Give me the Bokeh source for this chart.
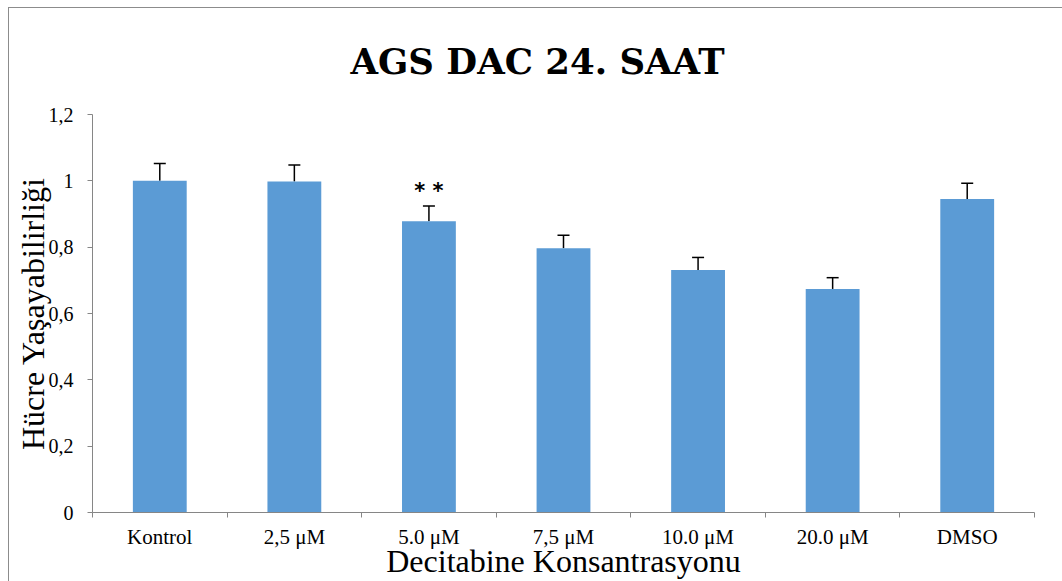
import numpy as np
from bokeh.plotting import figure
from bokeh.models import (ColumnDataSource, Whisker, TeeHead, FixedTicker,
                          CustomJSTickFormatter, Range1d)
from bokeh.core.properties import value
from bokeh.embed import file_html
from bokeh.resources import INLINE

# ---- data ----
categories = ["Kontrol", "2,5 μM", "5.0 μM", "7,5 μM", "10.0 μM", "20.0 μM", "DMSO"]
viability = [1.000, 0.998, 0.878, 0.797, 0.731, 0.674, 0.945]
errors = [0.052, 0.050, 0.046, 0.039, 0.038, 0.034, 0.048]
significance = ["", "", "* *", "", "", "", ""]
y_ticks = [0, 0.2, 0.4, 0.6, 0.8, 1.0, 1.2]

title_text = "AGS DAC 24. SAAT"
x_title = "Decitabine Konsantrasyonu"
y_title = "Hücre Yaşayabilirliği"

n = len(categories)
centers = np.arange(n) + 0.5
bounds = np.arange(n + 1)
top = np.array(viability)
upper = top + np.array(errors)

src = ColumnDataSource(dict(x=centers, top=top, upper=upper, sig=significance))

SERIF = "Liberation Serif"
AXIS_GRAY = "#868686"
BORDER = "#8c8c8c"

p = figure(width=1062, height=581,
           x_range=Range1d(0, n), y_range=Range1d(0, 1.2),
           output_backend="svg", toolbar_location=None,
           min_border_left=92, min_border_right=28,
           min_border_top=114, min_border_bottom=60)

# thin frame lines of the original chart box (left and top edges)
p.styles = {
    "background": (f"linear-gradient({BORDER},{BORDER}) 8px 7px / 1px 100% no-repeat, "
                   f"linear-gradient({BORDER},{BORDER}) 8px 7px / 100% 1px no-repeat, white")
}
p.border_fill_color = None
p.background_fill_color = "white"

p.vbar(x="x", top="top", width=0.4, source=src,
       fill_color="#5B9BD5", line_color=None)

whisk = Whisker(base="x", upper="upper", lower="top", source=src,
                upper_head=TeeHead(size=12, line_width=1.5, line_color="black"),
                lower_head=None, line_width=1.5, line_color="black")
p.add_layout(whisk)

p.text(x="x", y="upper", text="sig", source=src,
       text_font=value("DejaVu Sans"), text_font_style="bold",
       text_font_size="21px", text_align="center",
       text_baseline="alphabetic", y_offset=-15, text_color="black")

# title
p.title.text = title_text
p.title.text_font = "DejaVu Serif"
p.title.text_font_size = "35.5px"
p.title.text_font_style = "bold"
p.title.align = "left"
p.title.offset = 258
p.title.standoff = 66
p.title.text_color = "black"

# x axis
xa = p.xaxis[0]
xa.ticker = FixedTicker(ticks=list(centers), minor_ticks=list(bounds))
xa.formatter = CustomJSTickFormatter(args=dict(cats=categories),
                                     code="return cats[Math.floor(tick)];")
xa.major_tick_out = 0
xa.major_tick_in = 0
xa.minor_tick_out = 5
xa.minor_tick_in = 0
xa.minor_tick_line_color = AXIS_GRAY
xa.axis_line_color = AXIS_GRAY
xa.major_label_text_font = SERIF
xa.major_label_text_font_size = "21px"
xa.major_label_text_color = "black"
xa.major_label_standoff = 7
xa.axis_label = x_title
xa.axis_label_text_font = SERIF
xa.axis_label_text_font_size = "32px"
xa.axis_label_text_font_style = "normal"
xa.axis_label_text_color = "black"
xa.axis_label_standoff = -9

# y axis
ya = p.yaxis[0]
ya.ticker = FixedTicker(ticks=y_ticks, minor_ticks=[])
ya.formatter = CustomJSTickFormatter(
    code="return (Math.round(tick*10)/10).toString().replace('.', ',');")
ya.major_tick_out = 5
ya.major_tick_in = 0
ya.minor_tick_out = 0
ya.major_tick_line_color = AXIS_GRAY
ya.axis_line_color = AXIS_GRAY
ya.major_label_text_font = SERIF
ya.major_label_text_font_size = "20px"
ya.major_label_text_color = "black"
ya.major_label_standoff = 14
ya.axis_label = y_title
ya.axis_label_text_font = SERIF
ya.axis_label_text_font_size = "32px"
ya.axis_label_text_font_style = "normal"
ya.axis_label_text_color = "black"
ya.axis_label_standoff = -5

p.xgrid.visible = False
p.ygrid.visible = False
p.outline_line_color = None

open("out.html", "w").write(file_html(p, INLINE))
